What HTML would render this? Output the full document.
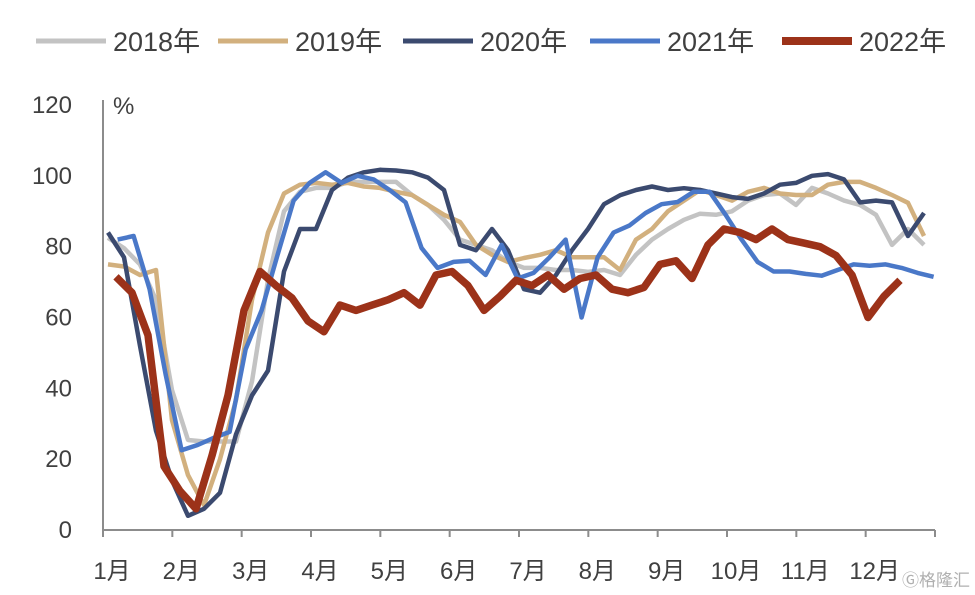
<!DOCTYPE html>
<html><head><meta charset="utf-8"><style>
body{margin:0;background:#fff;}
svg{display:block;font-family:"Liberation Sans","Noto Sans CJK SC",sans-serif;}
</style></head><body>
<svg id="chart" width="975" height="595" viewBox="0 0 975 595"></svg>
<script>
const months = ["1月","2月","3月","4月","5月","6月","7月","8月","9月","10月","11月","12月"];
const yTicks = [0,20,40,60,80,100,120];
const years = ["2018年","2019年","2020年","2021年","2022年"];
const s2018 = [82.5,79.6,75,65,39.5,25.4,25,25,25,42,70.6,90,95.5,96.6,96.6,98.3,98.3,98.3,98.3,94.6,91.8,87.6,82,80.5,79,75.7,74,74,73.4,73.4,72.9,73.4,72,77.7,82,85,87.6,89.3,89,90,93,94.6,95,91.8,96.6,95,93,91.8,89,80.5,85,80.5];
const s2019 = [75,74.4,72,73.4,31,15.5,7,20,36.7,65,84,95,97.5,98,97.5,98,97,96.6,95.5,94.6,91.8,89,87,80.5,77.7,75.7,76.8,77.7,79,77,77,77,73.4,82,85,90,93,96,94.6,93,95.5,96.6,95,94.6,94.6,97.5,98.3,98.3,96.6,94.6,92.4,83];
const s2020 = [84,77,52,28,14,4,6,10.5,27,38,45,73,85,85,96,99.5,101,101.7,101.5,101,99.5,96,80.5,79,85,79,68,67,72,79,85,92,94.5,96,97,96,96.5,96,95,94,93.5,95,97.5,98,100,100.5,99,92.5,93,92.5,83,89.5];
const s2021 = [82,83,68,44,22.5,24,26,27.7,51,62,77.7,93,98,101,98,100,99,96,92.5,79.6,74,75.7,76,72,80.5,71,72.6,77,82,60,77,84,86,89.5,92,92.6,95.5,95.5,89,82,75.7,73,73,72.3,71.8,73.4,75,74.6,75,74,72.6,71.5];
const s2022 = [71.5,67,55,18,11,6,21,38,62,73,69,65.5,59,56,63.5,62,63.5,65,67,63.5,72,73,69,62,66,70.5,69,72,68,71,72,68,67,68.5,75,76,71,80.5,85,84,82,85,82,81,80,77.5,72,60,66,70.5];
const seriesList = [s2018,s2019,s2020,s2021,s2022];
const startWeek = [0,0,0,0.6,0.5];
const colors = ["#c3c3c3","#d2b07e","#3b4a6f","#4a78c8","#9c3219"];
const widths = [4.5,4.5,4.5,4.5,7.5];
const NS="http://www.w3.org/2000/svg";
const svg=document.getElementById('chart');
const X0=103,X1=935,Y0=530,Y1=105;
const xMonth=m=>X0+(X1-X0)*m/12;
const xWeek=w=>108+w*16;
const y=v=>Y0-(Y0-Y1)*v/120;
function mk(t,a){const e=document.createElementNS(NS,t);for(const k in a)e.setAttribute(k,a[k]);svg.appendChild(e);return e;}
let ax=mk('line',{x1:X0,y1:Y1-5,x2:X0,y2:Y0,stroke:'#8c8c8c','stroke-width':2});


let bx=mk('line',{x1:X0,y1:Y0,x2:X1,y2:Y0,stroke:'#8c8c8c','stroke-width':2});


yTicks.forEach(v=>{
 const t=mk('text',{x:72,y:y(v)+8,'text-anchor':'end','font-size':24,fill:'#404040'});
 t.textContent=v;
 
 
});
const pct=mk('text',{x:113,y:114,'font-size':24,fill:'#404040'});pct.textContent='%';


for(let m=0;m<=12;m++){
 const tk=mk('line',{x1:xMonth(m),y1:Y0,x2:xMonth(m),y2:Y0+7,stroke:'#8c8c8c','stroke-width':2});
 
 
}
months.forEach((mn,i)=>{
 const t=mk('text',{x:xMonth(i)+9,y:579,'text-anchor':'middle','font-size':24,fill:'#404040'});
 t.textContent=mn;
 
 
});
seriesList.forEach((s,k)=>{
 const pts=s.map((v,i)=>xWeek(i+startWeek[k]).toFixed(1)+','+y(v).toFixed(1)).join(' ');
 const p=mk('polyline',{points:pts,fill:'none',stroke:colors[k],'stroke-width':widths[k],'stroke-linejoin':'round'});
 
 
});
const legX=[36,218,403,590,782];
years.forEach((yr,k)=>{
 const l=mk('line',{x1:legX[k],y1:41,x2:legX[k]+70,y2:41,stroke:colors[k],'stroke-width':widths[k]+0.5});
 
 
 const t=mk('text',{x:legX[k]+77,y:51,'font-size':27,fill:'#404040'});
 t.textContent=yr;
 
 
});
const wm=mk('text',{x:902,y:586,'font-size':17,fill:'#b0b0b0'});wm.textContent='Ⓖ格隆汇';


</script>
</body></html>
